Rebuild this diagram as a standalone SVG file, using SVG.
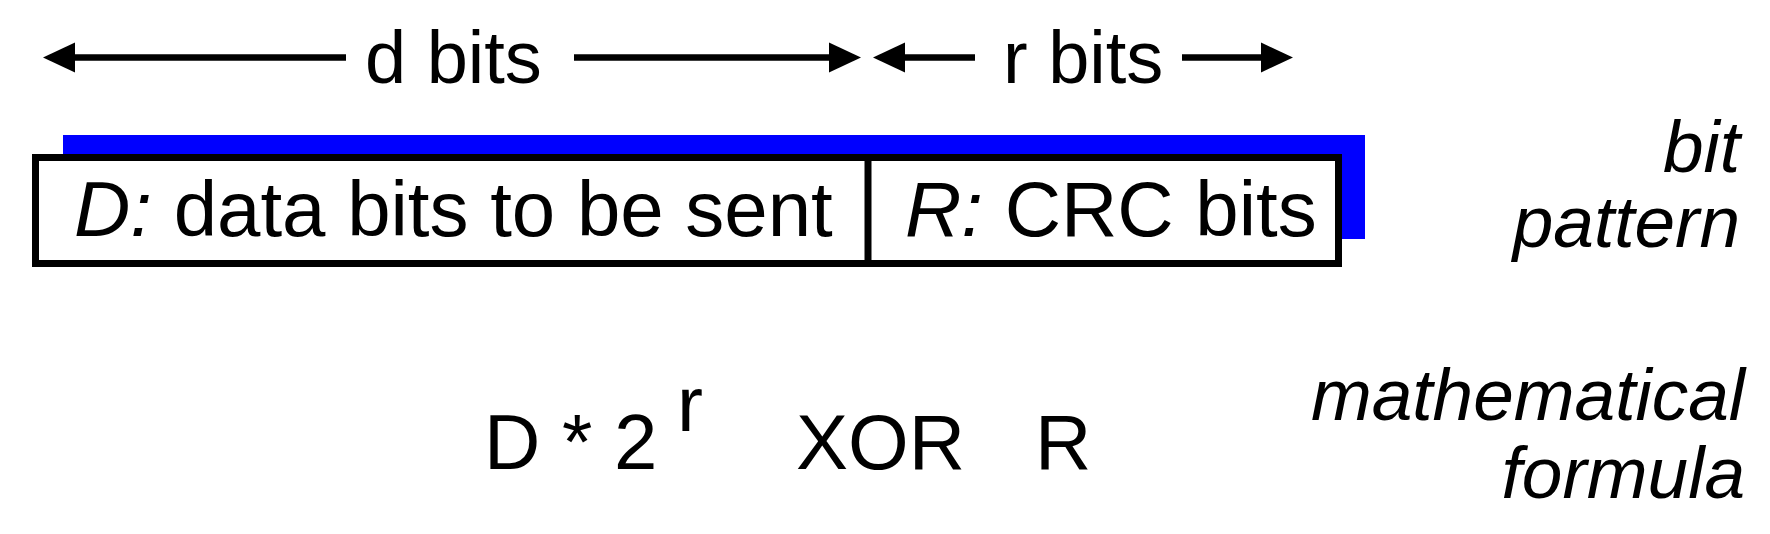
<svg xmlns="http://www.w3.org/2000/svg" width="1770" height="534" viewBox="0 0 1770 534">
<style>
  text { font-family: "Liberation Sans", Arial, sans-serif; fill: #000; }
  .lbl { font-size: 74px; }
  .main { font-size: 78px; }
  .side { font-size: 73px; font-style: italic; text-anchor: end; }
  .it { font-style: italic; }
  .dim { stroke: #000; stroke-width: 6.5; fill: none; marker-end: url(#ah); }
</style>
<defs>
  <marker id="ah" markerUnits="userSpaceOnUse" markerWidth="33" markerHeight="31" refX="0" refY="15" orient="auto" viewBox="0 0 33 30">
    <path d="M0,0 L32,15 L0,30 z" fill="#000"/>
  </marker>
</defs>
<rect x="0" y="0" width="1770" height="534" fill="#fff"/>
<g id="connectors">
  <line class="dim" x1="346" y1="57.5" x2="75" y2="57.5"/>
  <line class="dim" x1="574" y1="57.5" x2="829" y2="57.5"/>
  <line class="dim" x1="975" y1="57.5" x2="905" y2="57.5"/>
  <line class="dim" x1="1182" y1="57.5" x2="1261" y2="57.5"/>
</g>
<g id="label-d-bits"><text class="lbl" x="365" y="83">d bits</text></g>
<g id="label-r-bits"><text class="lbl" x="1003" y="83">r bits</text></g>
<g id="frame">
  <rect x="63" y="135" width="1302" height="104" fill="#0000ff"/>
  <rect x="35.5" y="157.5" width="1303" height="106" fill="#fff" stroke="#000" stroke-width="7"/>
  <line x1="868" y1="157.5" x2="868" y2="263.5" stroke="#000" stroke-width="7"/>
</g>
<g id="field-D"><text class="main" x="74" y="236"><tspan class="it">D:</tspan> data bits to be sent</text></g>
<g id="field-R"><text class="main" x="905" y="236"><tspan class="it">R:</tspan> CRC bits</text></g>
<g id="label-bit-pattern">
  <text class="side" x="1740" y="172">bit</text>
  <text class="side" x="1740" y="247">pattern</text>
</g>
<g id="formula">
  <text class="main" x="484" y="469">D * 2</text>
  <text class="main" x="677" y="431">r</text>
  <text class="main" x="796" y="469">XOR</text>
  <text class="main" x="1035" y="469">R</text>
</g>
<g id="label-math-formula">
  <text class="side" x="1745" y="420">mathematical</text>
  <text class="side" x="1745" y="498">formula</text>
</g>
</svg>
